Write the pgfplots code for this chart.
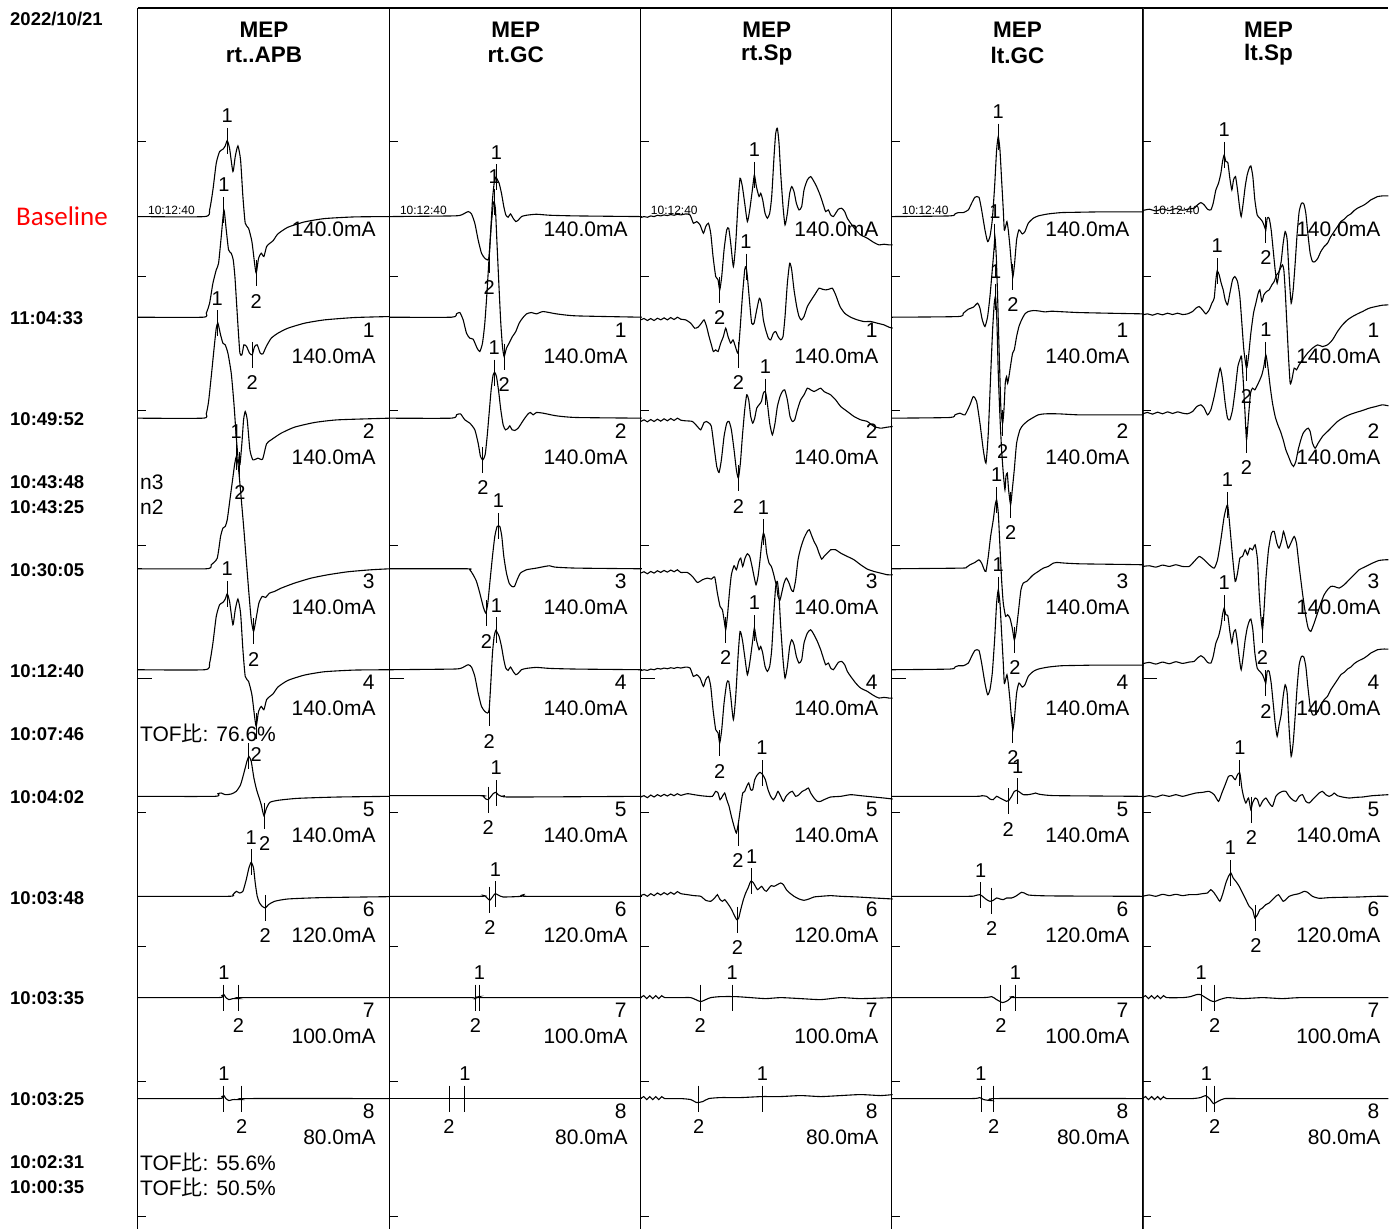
\documentclass[border=0pt]{standalone}
\usepackage{fontspec}
\setmainfont{Liberation Sans}
\newfontfamily\cjk{Noto Sans CJK JP}
\newfontfamily\calib{Carlito}
\usepackage{pgfplots}
\pgfplotsset{compat=1.18}

\newcommand{\fA}{\fontsize{21}{24}\selectfont}
\newcommand{\fM}{\fontsize{20}{22}\selectfont}
\newcommand{\fT}{\fontsize{18.5}{22}\selectfont\bfseries}
\newcommand{\fH}{\fontsize{22.5}{25}\selectfont\bfseries}
\newcommand{\fS}{\fontsize{12}{14}\selectfont}

\pgfplotsset{trc/.style={black, line width=1.1pt, smooth, tension=0.35, mark=none}}

% traces: zoom coords (x/3, y/3) or pixel-local coords
\newcommand{\trz}[3]{\addplot[trc, x filter/.expression={#1+x/3}, y filter/.expression={#2+y/3}] coordinates {#3};}
\newcommand{\trp}[3]{\addplot[trc, x filter/.expression={#1+x}, y filter/.expression={#2+y}] coordinates {#3};}
\newcommand{\twin}[2]{\trz{#1}{90}{#2}\trz{#1}{543.33}{#2}}

% markers
\newcommand{\mk}[7]{\addplot[only marks, mark=|, mark size=13pt, mark options={line width=1pt, black},
  x filter/.expression={#1+x/#3}, y filter/.expression={#2+y/#3},
  nodes near coords={#6}, every node near coord/.style={anchor=center, yshift=#7, font=\fM, text=black, inner sep=0pt}]
  coordinates {(#4,#5)};}
\newcommand{\mkA}[5]{\mk{#1}{#2}{3}{#3}{#4}{#5}{25pt}}
\newcommand{\mkB}[5]{\mk{#1}{#2}{3}{#3}{#4}{#5}{-28pt}}
\newcommand{\pkA}[4]{\mk{#1}{#2}{1}{#3}{0}{#4}{25pt}}
\newcommand{\pkB}[4]{\mk{#1}{#2}{1}{#3}{0}{#4}{-28pt}}
\newcommand{\twA}[4]{\mkA{#1}{90}{#2}{#3}{#4}\mkA{#1}{543.33}{#2}{#3}{#4}}
\newcommand{\twB}[4]{\mkB{#1}{90}{#2}{#3}{#4}\mkB{#1}{543.33}{#2}{#3}{#4}}

% right labels
\newcommand{\rl}[4]{\node[anchor=east, font=\fA, inner sep=0pt, xshift=237pt, yshift=-13pt] at (axis cs:#1,#2) {#3};
\node[anchor=east, font=\fA, inner sep=0pt, xshift=238pt, yshift=-39pt] at (axis cs:#1,#2) {#4};}

\newcommand{\panel}[2]{%
\draw[black, line width=1.1pt] (axis cs:#1,8) -- (axis cs:#1,1229);
\draw[black, line width=1pt] (axis cs:#1,142) -- ++(8pt,0pt) (axis cs:#1,277) -- ++(8pt,0pt) (axis cs:#1,411) -- ++(8pt,0pt) (axis cs:#1,546) -- ++(8pt,0pt) (axis cs:#1,679) -- ++(14pt,0pt) (axis cs:#1,813) -- ++(8pt,0pt) (axis cs:#1,947) -- ++(8pt,0pt) (axis cs:#1,1082) -- ++(8pt,0pt) (axis cs:#1,1217) -- ++(8pt,0pt);
\node[font=\fH, inner sep=0pt, xshift=126pt] at (axis cs:#1,30) {MEP};
\node[font=\fH, inner sep=0pt, xshift=126pt] at (axis cs:#1,55) {#2};
\node[anchor=west, font=\fS, inner sep=0pt, xshift=10pt, yshift=6pt] at (axis cs:#1,216) {10:12:40};
\node[anchor=east, font=\fA, inner sep=0pt, xshift=238pt, yshift=-13pt] at (axis cs:#1,216) {140.0mA};
\rl{#1}{317}{1}{140.0mA}
\rl{#1}{418}{2}{140.0mA}
\rl{#1}{569}{3}{140.0mA}
\rl{#1}{670}{4}{140.0mA}
\rl{#1}{797}{5}{140.0mA}
\rl{#1}{897}{6}{120.0mA}
\rl{#1}{998}{7}{100.0mA}
\rl{#1}{1099}{8}{80.0mA}
}

\begin{document}
\begin{tikzpicture}
\begin{axis}[width=1389pt, height=1229pt, scale only axis, xmin=0, xmax=1389, ymin=0, ymax=1229,
  y dir=reverse, hide axis, clip=false]
\path (axis cs:0,0) rectangle (axis cs:1389,1229);
\draw[black, line width=1.1pt] (axis cs:138,8) -- (axis cs:1389,8);

% ---------- left column ----------
\node[anchor=west, font=\fT, inner sep=0pt] at (axis cs:10,19) {2022/10/21};
\node[anchor=west, font=\calib\fontsize{27}{30}\selectfont, text=red, inner sep=0pt] at (axis cs:16,216) {Baseline};
\node[anchor=west, font=\fT, inner sep=0pt] at (axis cs:10,318) {11:04:33};
\node[anchor=west, font=\fT, inner sep=0pt] at (axis cs:10,419) {10:49:52};
\node[anchor=west, font=\fT, inner sep=0pt] at (axis cs:10,482) {10:43:48};
\node[anchor=west, font=\fT, inner sep=0pt] at (axis cs:10,507) {10:43:25};
\node[anchor=west, font=\fT, inner sep=0pt] at (axis cs:10,570) {10:30:05};
\node[anchor=west, font=\fT, inner sep=0pt] at (axis cs:10,671) {10:12:40};
\node[anchor=west, font=\fT, inner sep=0pt] at (axis cs:10,734) {10:07:46};
\node[anchor=west, font=\fT, inner sep=0pt] at (axis cs:10,797) {10:04:02};
\node[anchor=west, font=\fT, inner sep=0pt] at (axis cs:10,898) {10:03:48};
\node[anchor=west, font=\fT, inner sep=0pt] at (axis cs:10,999) {10:03:35};
\node[anchor=west, font=\fT, inner sep=0pt] at (axis cs:10,1100) {10:03:25};
\node[anchor=west, font=\fT, inner sep=0pt] at (axis cs:10,1163) {10:02:31};
\node[anchor=west, font=\fT, inner sep=0pt] at (axis cs:10,1188) {10:00:35};
\node[anchor=west, font=\fA, inner sep=0pt] at (axis cs:140,482) {n3};
\node[anchor=west, font=\fA, inner sep=0pt] at (axis cs:140,507) {n2};
\node[anchor=west, font=\fA, inner sep=0pt] at (axis cs:140,734) {TOF{\cjk 比}: 76.6\%};
\node[anchor=west, font=\fA, inner sep=0pt] at (axis cs:140,1163) {TOF{\cjk 比}: 55.6\%};
\node[anchor=west, font=\fA, inner sep=0pt] at (axis cs:140,1188) {TOF{\cjk 比}: 50.5\%};

\panel{138}{rt..APB}
\panel{390}{rt.GC}
\panel{641}{rt.Sp}
\panel{892}{lt.GC}
\draw[black!85, line width=1.9pt] (axis cs:1143,8) -- (axis cs:1143,1229);
\panel{1143}{lt.Sp}

% ================= Panel 1 : rt..APB =================
\twin{138}{(0,380)(200,380)(215,360)(225,300)(235,220)(245,185)(255,178)(262,168)(268,152)(275,175)(285,245)(292,200)(300,168)(308,210)(315,320)(322,400)(332,415)(342,455)(350,520)(355,550)(362,505)(370,490)(378,500)(386,470)(396,460)(406,452)(420,432)(450,412)(500,396)(560,386)(650,381)(756,380)}
\twA{138}{268}{152}{1}
\twB{138}{355}{550}{2}
\trz{138}{90}{(0,682)(195,682)(205,670)(215,640)(225,580)(235,540)(242,520)(250,440)(258,360)(265,420)(272,480)(280,490)(286,510)(291,560)(296,640)(301,720)(306,790)(312,795)(318,765)(326,770)(335,790)(343,795)(350,770)(358,765)(367,790)(375,792)(385,770)(400,745)(420,730)(450,715)(500,700)(560,690)(650,683)(756,680)}
\mkA{138}{90}{258}{360}{1}
\mkB{138}{90}{343}{795}{2}
\trz{138}{90}{(0,985)(195,985)(205,972)(212,935)(220,860)(228,780)(235,715)(240,700)(248,735)(255,760)(262,765)(270,790)(280,850)(288,940)(295,1040)(301,1110)(306,1125)(312,1060)(317,990)(322,965)(328,990)(336,1080)(345,1110)(360,1105)(374,1108)(386,1062)(400,1050)(430,1030)(470,1012)(530,998)(600,990)(756,985)}
\mkA{138}{90}{238}{700}{1}
\mkB{138}{90}{306}{1125}{2}
\trz{138}{460}{(0,327)(205,327)(220,315)(238,295)(248,230)(255,205)(262,200)(268,180)(276,120)(284,60)(290,15)(295,-9)(300,10)(305,60)(312,140)(318,210)(325,300)(333,400)(340,480)(347,515)(354,480)(363,430)(373,410)(383,413)(395,400)(410,395)(430,385)(470,370)(520,355)(570,345)(630,336)(700,330)(756,327)}
\mkA{138}{460}{295}{-9}{1}
\mkB{138}{460}{347}{515}{2}
\trz{138}{460}{(0,1010)(230,1010)(240,1002)(250,1000)(262,1005)(280,1003)(295,995)(308,975)(318,940)(327,905)(333,890)(340,905)(348,955)(356,990)(363,1012)(370,1035)(378,1068)(386,1045)(396,1028)(420,1022)(480,1016)(600,1012)(756,1010)}
\mkA{138}{460}{333}{890}{\relax}
\mkB{138}{460}{380}{1068}{2}
\trz{138}{460}{(0,1310)(270,1310)(285,1305)(295,1295)(305,1300)(315,1295)(325,1260)(333,1225)(340,1208)(347,1225)(352,1270)(358,1310)(365,1330)(373,1340)(382,1345)(392,1335)(410,1325)(450,1318)(550,1314)(756,1311)}
\mkA{138}{460}{340}{1208}{1}
\mkB{138}{460}{382}{1345}{2}
\trp{138}{998}{(0,0)(80,0)(84,-2)(86,-3)(88,0)(91,2)(95,1)(100,1)(105,0)(252,0)}
\pkA{138}{998}{86}{1}
\pkB{138}{998}{100.5}{2}
\trp{138}{1099}{(0,0)(80,0)(84,-2)(86,-3)(88,0)(91,2)(95,1)(103,1)(108,0)(252,0)}
\pkA{138}{1099}{86}{1}
\pkB{138}{1099}{103.7}{2}

% ================= Panel 2 : rt.GC =================
\twin{390}{(0,380)(190,378)(215,375)(235,365)(245,372)(255,400)(265,450)(275,490)(285,505)(293,510)(298,500)(303,420)(308,330)(313,280)(318,262)(322,268)(328,280)(335,310)(342,350)(348,375)(355,382)(362,372)(370,385)(378,395)(386,390)(395,380)(410,376)(440,373)(480,376)(560,378)(756,380)}
\twA{390}{320}{262}{1}
\twB{390}{298}{510}{2}
\trz{390}{90}{(0,682)(185,682)(200,672)(210,668)(220,690)(230,730)(240,745)(250,748)(262,775)(270,785)(278,760)(285,700)(292,600)(298,500)(304,410)(310,345)(313,335)(317,360)(322,470)(328,600)(333,700)(338,770)(343,800)(350,775)(358,760)(368,740)(378,725)(388,700)(398,685)(410,672)(425,668)(440,672)(460,665)(500,672)(560,678)(756,682)}
\mkA{390}{90}{313}{335}{1}
\mkB{390}{90}{343}{800}{2}
\trz{390}{90}{(0,985)(185,985)(200,975)(212,972)(225,990)(240,1000)(255,1020)(265,1060)(272,1100)(279,1110)(286,1095)(292,1040)(298,970)(304,900)(310,855)(315,848)(320,860)(326,900)(333,960)(340,1005)(347,1020)(355,1015)(360,1008)(367,1020)(375,1022)(385,1015)(395,1000)(405,985)(415,972)(422,968)(430,975)(440,968)(460,970)(500,978)(560,983)(756,985)}
\mkA{390}{90}{313}{848}{1}
\mkB{390}{90}{279}{1110}{2}
\trz{390}{460}{(0,327)(230,327)(240,330)(250,345)(260,365)(270,400)(280,440)(288,460)(294,430)(300,370)(308,290)(315,230)(322,200)(330,200)(336,230)(342,290)(350,340)(358,370)(366,380)(374,380)(382,360)(392,340)(410,330)(440,325)(465,320)(480,318)(495,322)(560,325)(756,327)}
\mkA{390}{460}{326}{198}{1}
\mkB{390}{460}{290}{460}{2}
\trz{390}{460}{(0,1008)(270,1008)(280,1010)(288,1018)(295,1020)(302,1012)(310,1002)(318,998)(325,1005)(335,1010)(345,1008)(360,1012)(756,1010)}
\mkA{390}{460}{319}{1000}{1}
\mkB{390}{460}{295}{1020}{2}
\trz{390}{460}{(0,1310)(270,1310)(283,1308)(292,1315)(300,1322)(308,1312)(316,1302)(325,1306)(340,1312)(395,1310)(402,1305)(410,1310)(756,1310)}
\mkA{390}{460}{317}{1304}{1}
\mkB{390}{460}{300}{1320}{2}
\trp{390}{998}{(0,0)(80,0)(85,1)(90,-1)(95,0)(252,0)}
\pkA{390}{998}{89.5}{1}
\pkB{390}{998}{85.5}{2}
\trp{390}{1099}{(0,0)(252,0)}
\pkA{390}{1099}{75.1}{1}
\pkB{390}{1099}{59.2}{2}

% ================= Panel 3 : rt.Sp =================
\twin{641}{(0,383)(10,380)(20,382)(30,378)(40,380)(50,376)(60,378)(70,375)(80,377)(90,374)(100,376)(110,373)(120,375)(135,372)(148,375)(158,400)(168,395)(178,405)(188,430)(195,410)(203,400)(210,430)(217,500)(225,560)(232,570)(237,600)(243,560)(250,480)(258,420)(264,415)(270,460)(278,530)(285,460)(292,340)(298,265)(305,290)(312,340)(320,395)(327,360)(335,300)(341,255)(347,290)(355,320)(360,310)(366,330)(373,370)(380,385)(387,370)(393,320)(400,200)(405,130)(410,115)(415,160)(420,250)(427,350)(433,405)(440,370)(447,310)(453,290)(460,305)(467,340)(475,360)(483,350)(490,300)(500,270)(510,260)(520,275)(530,295)(540,320)(548,345)(555,365)(563,360)(570,375)(578,380)(585,370)(593,358)(603,355)(612,365)(620,385)(630,400)(645,420)(660,435)(680,445)(700,458)(715,465)(730,463)(745,465)(756,465)}
\twA{641}{341}{255}{1}
\twB{641}{237}{600}{2}
\trz{641}{90}{(0,690)(10,686)(20,692)(30,686)(40,692)(50,685)(60,690)(70,684)(80,690)(90,683)(100,689)(110,682)(120,688)(135,690)(150,700)(162,715)(172,712)(182,700)(190,690)(197,708)(205,740)(212,765)(218,785)(225,780)(232,785)(240,760)(248,740)(255,715)(262,740)(270,760)(277,750)(284,770)(292,790)(298,720)(305,620)(312,540)(316,530)(320,560)(327,640)(333,700)(340,700)(348,660)(356,625)(362,640)(368,690)(375,720)(383,745)(390,750)(398,730)(405,725)(412,740)(420,750)(427,740)(433,680)(440,580)(447,520)(453,540)(460,600)(468,650)(475,680)(482,690)(490,680)(500,650)(512,630)(525,610)(535,595)(545,598)(555,600)(565,598)(575,595)(585,615)(598,650)(612,670)(630,682)(650,690)(670,695)(690,695)(710,700)(730,705)(745,712)(756,715)}
\mkA{641}{90}{316}{530}{1}
\mkB{641}{90}{293}{795}{2}
\trz{641}{90}{(0,995)(10,990)(20,996)(30,989)(40,995)(50,988)(60,994)(70,987)(80,993)(90,986)(100,992)(110,985)(120,991)(135,993)(155,995)(170,1010)(180,1020)(190,998)(197,995)(205,1000)(212,1010)(220,1070)(228,1130)(235,1148)(242,1110)(250,1040)(258,1000)(265,995)(272,1020)(280,1080)(287,1140)(293,1165)(299,1120)(305,1040)(312,960)(318,915)(324,930)(330,980)(336,1000)(342,985)(348,955)(355,945)(362,935)(368,910)(374,905)(380,940)(387,1000)(395,1035)(403,1000)(410,950)(418,920)(425,905)(432,900)(440,930)(448,980)(455,995)(462,990)(470,960)(480,930)(490,915)(500,895)(510,900)(520,905)(530,900)(540,895)(550,905)(560,910)(570,915)(585,930)(600,950)(620,965)(640,980)(660,990)(680,995)(700,1010)(720,1015)(740,1012)(756,1010)}
\mkA{641}{90}{374}{905}{1}
\mkB{641}{90}{293}{1165}{2}
\trz{641}{460}{(0,340)(10,336)(20,342)(30,335)(40,340)(50,333)(60,338)(70,332)(80,337)(90,331)(100,336)(110,330)(120,338)(140,338)(155,350)(170,368)(185,360)(200,355)(212,358)(222,352)(230,400)(238,440)(245,450)(250,480)(255,510)(260,470)(266,400)(272,345)(280,318)(287,330)(294,305)(300,295)(306,320)(313,295)(320,282)(327,290)(334,320)(340,350)(346,375)(352,350)(358,300)(363,250)(368,220)(373,235)(378,280)(385,310)(392,320)(398,340)(404,365)(408,380)(412,410)(418,420)(423,400)(430,370)(437,355)(445,370)(452,390)(458,395)(465,360)(472,300)(480,265)(490,235)(500,215)(506,210)(512,225)(520,245)(528,260)(535,280)(543,298)(550,290)(560,280)(570,270)(585,270)(600,280)(620,290)(640,300)(660,315)(680,328)(700,335)(720,340)(740,345)(756,345)}
\mkA{641}{460}{368}{218}{1}
\mkB{641}{460}{255}{510}{2}
\trz{641}{460}{(0,1012)(10,1008)(20,1014)(30,1006)(40,1012)(50,1005)(60,1010)(70,1004)(80,1009)(90,1003)(100,1008)(110,1002)(120,1007)(140,1002)(160,1005)(180,1008)(200,1010)(215,1010)(225,995)(232,1000)(238,1020)(245,1010)(252,1000)(258,1020)(265,1040)(272,1070)(280,1100)(287,1120)(293,1090)(300,1040)(306,1000)(312,995)(318,980)(324,970)(330,990)(336,990)(342,960)(350,945)(358,938)(366,945)(374,960)(382,990)(390,1010)(398,1020)(405,1010)(412,995)(420,1010)(428,1025)(436,1010)(445,1000)(455,995)(465,1010)(475,1005)(485,995)(495,990)(503,985)(510,1000)(520,1015)(530,1025)(540,1025)(550,1020)(570,1012)(600,1010)(630,1005)(660,1008)(700,1012)(730,1015)(756,1018)}
\mkA{641}{460}{364}{940}{1}
\mkB{641}{460}{292}{1120}{2}
\trz{641}{460}{(0,1308)(10,1304)(20,1310)(30,1302)(40,1308)(50,1300)(60,1306)(70,1299)(80,1305)(90,1298)(100,1304)(110,1296)(120,1302)(140,1305)(160,1308)(180,1310)(195,1322)(210,1325)(222,1315)(230,1305)(237,1318)(245,1325)(252,1320)(260,1330)(270,1345)(280,1365)(288,1380)(294,1375)(300,1350)(308,1320)(315,1300)(322,1285)(330,1265)(337,1268)(343,1278)(350,1290)(357,1285)(363,1280)(370,1290)(377,1295)(385,1285)(392,1278)(400,1280)(410,1275)(420,1270)(428,1275)(437,1290)(447,1300)(460,1310)(475,1318)(490,1322)(505,1318)(520,1312)(540,1310)(570,1308)(600,1310)(650,1312)(700,1315)(756,1318)}
\mkA{641}{460}{333}{1265}{1}
\mkB{641}{460}{290}{1380}{2}
\trp{641}{998}{(0,0)(3,-2)(6,1)(9,-2)(12,1)(15,-2)(18,1)(21,-2)(24,0)(40,0)(50,0)(55,2)(60,4)(65,2)(70,0)(80,-1)(95,-1)(110,0)(125,1)(140,0)(160,1)(180,2)(200,0)(220,1)(252,0)}
\pkA{641}{998}{91.4}{1}
\pkB{641}{998}{59.5}{2}
\trp{641}{1099}{(0,0)(3,-2)(6,1)(9,-2)(12,1)(15,-2)(18,1)(21,-2)(24,0)(40,0)(50,1)(56,4)(62,3)(68,0)(80,-1)(100,-1)(121,-2)(140,-2)(160,-3)(180,-2)(200,-3)(220,-4)(240,-3)(252,-4)}
\pkA{641}{1099}{121.7}{1}
\pkB{641}{1099}{58}{2}

% ================= Panel 4 : lt.GC =================
\twin{892}{(0,380)(175,378)(190,372)(200,368)(215,368)(230,360)(240,340)(250,322)(262,322)(270,360)(280,420)(288,455)(295,440)(302,390)(309,290)(315,180)(320,140)(325,180)(330,270)(335,360)(338,420)(342,410)(346,395)(350,420)(355,470)(360,530)(364,560)(369,520)(375,450)(382,420)(392,432)(400,425)(410,400)(425,385)(440,378)(470,372)(510,368)(560,367)(620,366)(700,366)(756,366)}
\twA{892}{320}{140}{1}
\twB{892}{364}{560}{2}
\trz{892}{90}{(0,682)(200,680)(215,670)(230,658)(245,652)(258,640)(265,655)(272,690)(280,710)(288,680)(295,620)(302,540)(307,480)(310,440)(314,500)(318,620)(321,730)(324,830)(328,960)(333,1000)(337,960)(341,880)(345,860)(348,880)(352,860)(358,820)(363,790)(368,780)(375,740)(382,710)(390,690)(400,672)(410,665)(425,662)(440,663)(460,666)(480,664)(500,665)(560,668)(650,670)(756,672)}
\mkA{892}{90}{310}{440}{1}
\mkB{892}{90}{333}{1000}{2}
\trz{892}{90}{(0,985)(175,983)(190,975)(205,970)(220,975)(235,945)(245,920)(255,935)(265,1000)(275,1080)(283,1120)(290,1030)(297,860)(303,720)(308,640)(312,621)(316,700)(320,850)(325,980)(330,1080)(335,1150)(340,1200)(343,1160)(347,1150)(351,1200)(357,1245)(362,1200)(368,1140)(375,1060)(385,1020)(395,1005)(410,992)(425,983)(440,975)(460,972)(500,972)(560,975)(650,975)(756,975)}
\mkA{892}{90}{312}{621}{1}
\mkB{892}{90}{357}{1245}{2}
\trz{892}{460}{(0,327)(210,325)(225,322)(235,315)(250,308)(262,300)(270,310)(278,330)(283,335)(290,290)(297,230)(305,180)(310,140)(315,120)(320,160)(325,260)(330,360)(335,430)(342,470)(348,465)(355,475)(362,505)(368,540)(373,520)(380,460)(388,390)(395,370)(405,365)(415,355)(425,345)(440,335)(455,325)(470,320)(485,310)(495,308)(520,310)(560,312)(620,313)(700,314)(756,315)}
\mkA{892}{460}{315}{120}{1}
\mkB{892}{460}{370}{540}{2}
\trz{892}{460}{(0,1010)(250,1010)(270,1008)(285,1010)(295,1018)(305,1020)(315,1010)(325,1015)(335,1020)(345,1025)(352,1022)(360,1010)(368,995)(375,992)(385,998)(395,1005)(410,1005)(425,1002)(432,1000)(440,1003)(460,1006)(500,1008)(756,1010)}
\mkA{892}{460}{378}{995}{1}
\mkB{892}{460}{350}{1025}{2}
\trz{892}{460}{(0,1310)(230,1310)(250,1308)(265,1305)(275,1312)(285,1320)(295,1325)(305,1322)(315,1315)(325,1318)(335,1320)(345,1315)(360,1315)(372,1310)(382,1303)(390,1298)(398,1300)(410,1306)(440,1308)(500,1309)(756,1310)}
\mkA{892}{460}{267}{1307}{1}
\mkB{892}{460}{300}{1323}{2}
\trp{892}{998}{(0,0)(90,0)(100,-1)(105,2)(111,5)(116,3)(121,-1)(126,0)(252,0)}
\pkA{892}{998}{123.7}{1}
\pkB{892}{998}{109.2}{2}
\trp{892}{1099}{(0,0)(80,0)(88,-1)(92,1)(100,2)(105,0)(252,0)}
\pkA{892}{1099}{89.4}{1}
\pkB{892}{1099}{102.1}{2}

% ================= Panel 5 : lt.Sp =================
\twin{1143}{(0,362)(20,358)(40,363)(60,357)(80,362)(100,356)(120,361)(140,357)(155,355)(165,345)(175,338)(185,345)(195,358)(205,360)(212,340)(220,300)(228,280)(235,250)(240,215)(245,195)(250,215)(256,218)(262,265)(268,300)(273,270)(279,260)(285,300)(291,350)(296,380)(302,340)(308,290)(314,255)(320,235)(325,228)(331,260)(337,330)(344,375)(352,385)(360,395)(366,410)(370,420)(374,385)(380,385)(386,420)(392,480)(398,540)(404,580)(410,545)(416,515)(422,460)(428,425)(434,450)(440,560)(446,640)(452,600)(458,520)(464,430)(470,365)(477,340)(484,342)(490,370)(496,430)(503,490)(510,515)(518,515)(526,505)(535,485)(545,470)(555,460)(565,440)(575,425)(585,410)(595,395)(605,388)(615,378)(625,372)(635,362)(645,355)(655,350)(665,345)(675,338)(685,330)(695,325)(705,320)(720,318)(738,318)}
\twA{1143}{245}{195}{1}
\twB{1143}{370}{420}{2}
\trz{1143}{90}{(0,675)(15,672)(30,676)(45,671)(60,675)(75,670)(90,674)(105,670)(120,674)(135,672)(150,665)(160,655)(170,650)(180,660)(190,672)(200,660)(208,640)(215,625)(220,570)(224,543)(230,555)(236,580)(242,600)(248,630)(255,645)(262,610)(270,570)(277,560)(285,575)(292,620)(298,700)(304,780)(312,835)(318,800)(325,730)(333,670)(340,640)(347,610)(352,600)(358,635)(364,615)(372,605)(380,600)(388,585)(395,575)(402,555)(408,548)(414,535)(420,525)(424,540)(428,600)(433,700)(438,800)(443,880)(448,870)(455,835)(462,840)(470,825)(480,810)(495,790)(510,775)(525,765)(540,770)(555,765)(570,750)(585,725)(600,705)(615,690)(630,680)(645,672)(660,665)(680,655)(700,650)(720,646)(738,645)}
\mkA{1143}{90}{224}{543}{1}
\mkB{1143}{90}{312}{835}{2}
\trz{1143}{90}{(0,972)(15,968)(30,973)(45,967)(60,972)(75,966)(90,971)(105,966)(120,970)(135,972)(150,965)(163,950)(175,945)(185,955)(195,975)(205,960)(215,920)(225,870)(233,835)(240,870)(248,940)(255,985)(262,990)(270,960)(278,900)(286,830)(292,810)(297,800)(302,870)(307,960)(312,1050)(318,980)(324,910)(330,895)(337,900)(345,885)(352,870)(358,855)(364,830)(370,795)(376,830)(383,890)(390,940)(398,980)(406,1005)(414,1025)(422,1050)(430,1080)(438,1100)(446,1120)(453,1130)(460,1115)(467,1080)(475,1050)(482,1030)(490,1020)(497,1015)(503,1025)(510,1060)(518,1075)(527,1060)(540,1040)(555,1025)(570,1010)(585,995)(600,985)(620,975)(640,968)(660,962)(680,955)(700,950)(720,945)(738,948)}
\mkA{1143}{90}{370}{795}{1}
\mkB{1143}{90}{312}{1050}{2}
\trz{1143}{460}{(0,320)(20,318)(40,322)(60,316)(80,320)(100,315)(120,320)(140,320)(155,305)(170,290)(185,300)(200,315)(215,325)(225,300)(235,240)(245,170)(255,135)(262,200)(270,290)(278,365)(285,340)(292,295)(300,290)(308,270)(315,285)(322,265)(330,270)(338,255)(345,300)(350,400)(355,470)(360,510)(364,460)(370,360)(378,270)(387,220)(395,215)(403,250)(410,265)(418,240)(423,215)(430,240)(437,265)(445,250)(455,230)(462,250)(470,320)(480,400)(490,470)(497,505)(505,515)(515,490)(525,460)(535,430)(545,405)(555,390)(565,380)(575,380)(590,385)(605,375)(620,360)(635,345)(650,330)(670,320)(690,310)(710,302)(730,300)(738,300)}
\mkA{1143}{460}{255}{135}{1}
\mkB{1143}{460}{360}{510}{2}
\trz{1143}{460}{(0,1012)(20,1008)(40,1012)(60,1006)(80,1010)(100,1005)(120,1010)(140,1005)(160,1000)(180,998)(200,995)(215,1005)(228,1025)(238,1000)(248,975)(258,950)(268,948)(278,960)(285,945)(292,940)(298,985)(303,1010)(310,1030)(318,1015)(325,1050)(330,1030)(338,1015)(345,1020)(352,1040)(360,1025)(370,1015)(380,1030)(390,1040)(400,1010)(410,1000)(420,995)(430,995)(440,1010)(450,1020)(460,1025)(470,1010)(480,1005)(490,1025)(500,1030)(510,1020)(520,1010)(530,1000)(540,995)(550,1005)(560,1010)(570,1005)(575,1000)(585,1008)(600,1012)(620,1015)(640,1013)(660,1012)(690,1008)(738,1005)}
\mkA{1143}{460}{292}{940}{1}
\mkB{1143}{460}{327}{1050}{2}
\trz{1143}{460}{(0,1310)(20,1306)(40,1310)(60,1304)(80,1308)(100,1304)(120,1308)(140,1305)(160,1305)(180,1302)(195,1300)(205,1290)(215,1300)(225,1315)(232,1325)(240,1305)(250,1270)(258,1250)(265,1240)(272,1255)(280,1265)(290,1280)(300,1300)(310,1320)(320,1340)(330,1350)(337,1375)(345,1365)(352,1350)(360,1345)(370,1335)(380,1330)(390,1320)(400,1310)(408,1305)(415,1315)(422,1325)(430,1320)(440,1310)(455,1305)(470,1302)(485,1295)(495,1298)(510,1310)(530,1316)(560,1314)(600,1313)(650,1312)(700,1310)(738,1310)}
\mkA{1143}{460}{264}{1240}{1}
\mkB{1143}{460}{340}{1375}{2}
\trp{1143}{998}{(0,0)(3,-2)(6,1)(9,-2)(12,1)(15,-2)(18,1)(21,-2)(24,0)(40,0)(48,-1)(54,-3)(58,-3)(63,0)(68,3)(72,4)(77,2)(85,0)(100,1)(120,0)(140,1)(160,0)(246,0)}
\pkA{1143}{998}{58.6}{1}
\pkB{1143}{998}{72.2}{2}
\trp{1143}{1099}{(0,0)(3,-2)(6,1)(9,-2)(12,1)(15,-2)(18,1)(21,-2)(24,0)(50,0)(58,-1)(63,-3)(67,0)(71,5)(75,3)(82,0)(100,0)(246,0)}
\pkA{1143}{1099}{64}{1}
\pkB{1143}{1099}{72.2}{2}

\end{axis}
\end{tikzpicture}
\end{document}
